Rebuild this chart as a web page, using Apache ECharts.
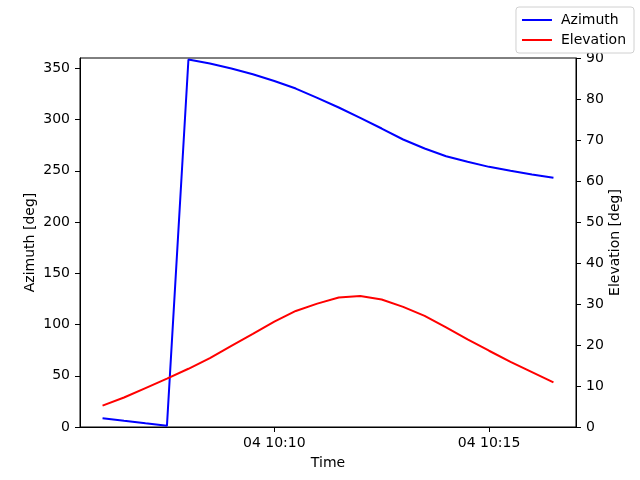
<!DOCTYPE html>
<html>
<head>
<meta charset="utf-8">
<script src="https://cdn.jsdelivr.net/npm/echarts@6/dist/echarts.min.js"></script>
<style>
  html, body { margin: 0; padding: 0; background: #fff; }
  #main { width: 640px; height: 480px; }
</style>
</head>
<body>
<div id="main"></div>
<script type="text/javascript">
// minutes after 10:00 on day 04, one sample every 30 s
var timeMin = [6, 6.5, 7, 7.5, 8, 8.5, 9, 9.5, 10, 10.5, 11, 11.5, 12, 12.5, 13, 13.5, 14, 14.5, 15, 15.5, 16, 16.5];
var azimuth = [8.5, 6.0, 3.6, 1.3, 358.5, 354.6, 349.7, 344.2, 337.6, 330.2, 321.1, 311.7, 301.6, 291.2, 280.5, 271.7, 264.2, 258.7, 253.8, 249.9, 246.4, 243.1];
var elevation = [5.2, 7.2, 9.5, 11.8, 14.2, 16.8, 19.8, 22.7, 25.7, 28.3, 30.1, 31.6, 31.95, 31.1, 29.3, 27.1, 24.3, 21.4, 18.6, 15.9, 13.4, 10.9];
var timeTicks = [10, 15];
var azTicks = [0, 50, 100, 150, 200, 250, 300, 350];

function pairs(xs, ys){
  var out = [];
  for (var i = 0; i < xs.length; i++){
    out.push([xs[i], ys[i]]);
  }
  return out;
}

var font = 'DejaVu Sans';
var chart = echarts.init(document.getElementById('main'));
var option = {
  animation: false,
  textStyle: { fontFamily: font, color: '#000' },
  grid: {
    left: 80, right: 64, top: 58, bottom: 53,
    show: true, borderColor: '#000', borderWidth: 1, backgroundColor: 'transparent'
  },
  legend: {
    orient: 'vertical',
    right: 6, top: 7,
    padding: [6, 8, 6, 6],
    itemGap: 6,
    itemWidth: 30, itemHeight: 2,
    icon: 'rect',
    borderColor: '#d0d0d0', borderWidth: 1, borderRadius: 3,
    backgroundColor: '#fff',
    textStyle: { fontFamily: font, fontSize: 14, color: '#000', padding: [0, 0, 0, 4] },
    data: ['Azimuth', 'Elevation']
  },
  xAxis: {
    type: 'value',
    min: 5.475, max: 17.025,
    name: 'Time', nameLocation: 'middle', nameGap: 29, nameMoveOverlap: false,
    nameTextStyle: { fontFamily: font, fontSize: 14, color: '#000' },
    axisLine: { show: true, lineStyle: { color: '#000', width: 1 } },
    axisTick: { show: true, length: 5, lineStyle: { color: '#000' }, customValues: timeTicks },
    axisLabel: {
      fontFamily: font, fontSize: 14, color: '#000', margin: 9,
      customValues: timeTicks,
      formatter: function(v){ return '04 10:' + v; }
    },
    splitLine: { show: false }
  },
  yAxis: [
    {
      type: 'value', position: 'left',
      min: 0, max: 360,
      name: 'Azimuth [deg]', nameLocation: 'middle', nameGap: 43, nameRotate: 90, nameMoveOverlap: false,
      nameTextStyle: { fontFamily: font, fontSize: 14, color: '#000' },
      axisLine: { show: true, lineStyle: { color: '#000', width: 1 } },
      axisTick: { show: true, length: 5, lineStyle: { color: '#000' }, customValues: azTicks },
      axisLabel: { fontFamily: font, fontSize: 14, color: '#000', margin: 10, customValues: azTicks },
      splitLine: { show: false }
    },
    {
      type: 'value', position: 'right',
      min: 0, max: 90, interval: 10,
      name: 'Elevation [deg]', nameLocation: 'middle', nameGap: 32, nameRotate: 90, nameMoveOverlap: false,
      nameTextStyle: { fontFamily: font, fontSize: 14, color: '#000' },
      axisLine: { show: true, lineStyle: { color: '#000', width: 1 } },
      axisTick: { show: true, length: 5, lineStyle: { color: '#000' } },
      axisLabel: { fontFamily: font, fontSize: 14, color: '#000', margin: 10 },
      splitLine: { show: false }
    }
  ],
  series: [
    {
      name: 'Azimuth', type: 'line', yAxisIndex: 0,
      data: pairs(timeMin, azimuth),
      showSymbol: false, symbol: 'none',
      lineStyle: { color: '#0000ff', width: 2 },
      itemStyle: { color: '#0000ff' }
    },
    {
      name: 'Elevation', type: 'line', yAxisIndex: 1,
      data: pairs(timeMin, elevation),
      showSymbol: false, symbol: 'none',
      lineStyle: { color: '#ff0000', width: 2 },
      itemStyle: { color: '#ff0000' }
    }
  ]
};
chart.setOption(option);
</script>
</body>
</html>
